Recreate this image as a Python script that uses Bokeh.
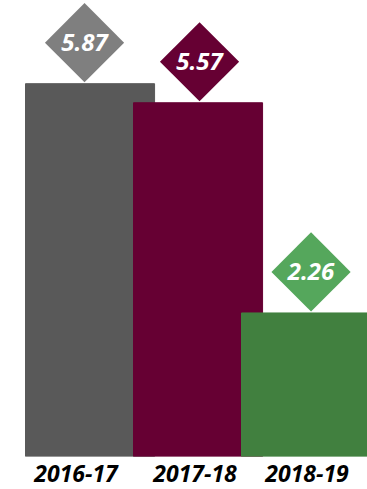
import numpy as np
from bokeh.plotting import figure
from bokeh.models import ColumnDataSource, FixedTicker, Range1d
from bokeh.core.properties import value
from bokeh.embed import file_html
from bokeh.resources import INLINE

years = ["2016-17", "2017-18", "2018-19"]
values = [5.87, 5.57, 2.26]
bar_colors = ["#595959", "#660033", "#41803f"]
badge_colors = ["#7f7f7f", "#660033", "#55a75c"]

# layout constants (styling, not data)
W, H, FRAME_H = 367, 489, 456
X0, X1, Y1 = -0.829, 2.569, 7.18
px_x = W / (X1 - X0)
px_y = FRAME_H / Y1
badge_dx_px = [-5.5, 1.5, 5.0]
badge_dy_px = 41
label_dx_px = [-14, -3, 1]

x = list(range(len(years)))
labels = [f"{v:.2f}" for v in values]
bx = [xi + d / px_x for xi, d in zip(x, badge_dx_px)]
by = [v + badge_dy_px / px_y for v in values]
src = ColumnDataSource(dict(x=x, top=values, bar_color=bar_colors,
                            badge_color=badge_colors, label=labels,
                            bx=bx, by=by))

p = figure(width=W, height=H, output_backend="svg", toolbar_location=None,
           x_range=Range1d(X0, X1), y_range=Range1d(0, Y1),
           min_border=0, min_border_left=0, min_border_right=0,
           min_border_top=0, min_border_bottom=H - FRAME_H)
p.outline_line_color = None
p.grid.visible = False
p.yaxis.visible = False

p.vbar(x="x", top="top", bottom=0, width=1.195, color="bar_color", source=src)

p.scatter(x="bx", y="by", marker="square", size=56, angle=np.pi / 4,
          fill_color="badge_color", line_color=None, source=src)
p.text(x="bx", y="by", text="label", text_align="center", text_baseline="middle",
       text_font=value("Open Sans"), text_font_style="bold italic",
       text_font_size="24px", text_color="white", source=src)

tick_pos = [xi + d / px_x for xi, d in zip(x, label_dx_px)]
p.xaxis.ticker = FixedTicker(ticks=tick_pos)
p.xaxis.major_label_overrides = {t: y for t, y in zip(tick_pos, years)}
p.xaxis.axis_line_color = None
p.xaxis.major_tick_line_color = None
p.xaxis.minor_tick_line_color = None
p.xaxis.major_tick_out = 0
p.xaxis.major_tick_in = 0
p.xaxis.major_label_standoff = 8
p.xaxis.major_label_text_font = "Open Sans"
p.xaxis.major_label_text_font_style = "bold italic"
p.xaxis.major_label_text_font_size = "23px"
p.xaxis.major_label_text_color = "#000000"

out = open("out.html", "w")
out.write(file_html(p, INLINE))
out.close()
